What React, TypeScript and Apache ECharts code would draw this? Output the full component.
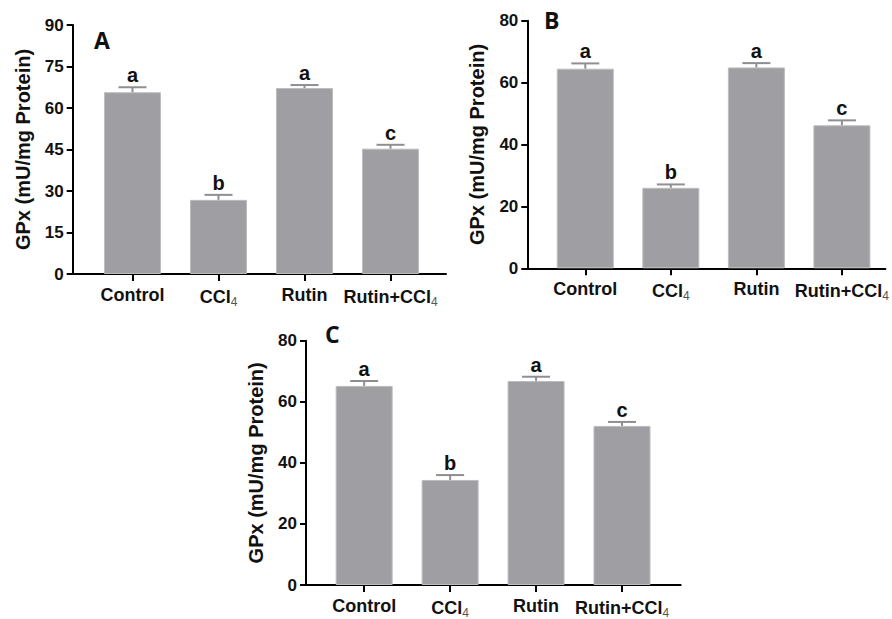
import React, { useEffect, useRef } from "react";
import * as echarts from "echarts";

const categories = ["Control", "CCl4", "Rutin", "Rutin+CCl4"];
const letters = ["a", "b", "a", "c"];

const gpxA = [65.7, 26.8, 67.2, 45.3];
const semA = [1.8, 1.8, 1.1, 1.4];

const gpxB = [64.5, 26.0, 64.9, 46.2];
const semB = [1.7, 1.1, 1.4, 1.6];

const gpxC = [65.2, 34.4, 66.8, 52.1];
const semC = [1.6, 1.6, 1.4, 1.3];

const yTitle = "GPx (mU/mg Protein)";
const panelNames = ["A", "B", "C"];

const AXIS_FONT = '"Liberation Sans", Arial, sans-serif';
const TEXT = "#111";
const BAR = "#9f9ea3";
const BAR_EDGE = "#bcbcbf";
const ERR = "#8f8f93";

function catLabel(v: number) {
  const name = categories[Math.round(v)] || "";
  if (name.endsWith("CCl4")) {
    return name.slice(0, -1) + "{sub|4}";
  }
  return name;
}

export default function App() {
  const ref = useRef<HTMLDivElement | null>(null);

  useEffect(() => {
    if (!ref.current) return;
    const chart = echarts.init(ref.current, undefined, { renderer: "svg" });

    const panels = [
      { vals: gpxA, sems: semA, grid: { left: 72.7, top: 25, width: 373.3, height: 249 }, xmin: -0.695, xmax: 3.645, ymax: 90, step: 15 },
      { vals: gpxB, sems: semB, grid: { left: 527.3, top: 20.7, width: 360.7, height: 247.6 }, xmin: -0.678, xmax: 3.508, ymax: 80, step: 20 },
      { vals: gpxC, sems: semC, grid: { left: 306, top: 340.7, width: 374.7, height: 248.6 }, xmin: -0.677, xmax: 3.683, ymax: 80, step: 20 },
    ];

    const grids: any[] = [];
    const xAxes: any[] = [];
    const yAxes: any[] = [];
    const series: any[] = [];

    panels.forEach((p, i) => {
      grids.push({ ...p.grid, containLabel: false });
      xAxes.push({
        type: "value",
        gridIndex: i,
        min: p.xmin,
        max: p.xmax,
        splitLine: { show: false },
        axisLine: { show: true, onZero: false, lineStyle: { color: "#000", width: 2 } },
        axisTick: { show: true, customValues: [0, 1, 2, 3], length: 7, lineStyle: { color: "#000", width: 2 } },
        axisLabel: {
          customValues: [0, 1, 2, 3],
          formatter: (v: number) => catLabel(v),
          margin: 12,
          color: TEXT,
          fontFamily: AXIS_FONT,
          fontWeight: "bold",
          fontSize: 18,
          rich: {
            sub: {
              fontFamily: AXIS_FONT,
              fontSize: 12,
              color: "#555",
              fontWeight: "normal",
              padding: [10, 0, 0, 0],
            },
          },
        },
      });
      yAxes.push({
        type: "value",
        gridIndex: i,
        min: 0,
        max: p.ymax,
        interval: p.step,
        splitLine: { show: false },
        axisLine: { show: true, onZero: false, lineStyle: { color: "#000", width: 2 } },
        axisTick: { show: true, length: 6, lineStyle: { color: "#000", width: 2 } },
        axisLabel: {
          margin: 9,
          color: TEXT,
          fontFamily: AXIS_FONT,
          fontWeight: "bold",
          fontSize: 17,
        },
        name: yTitle,
        nameLocation: "middle",
        nameRotate: 90,
        nameGap: 40,
        nameTextStyle: {
          color: TEXT,
          fontFamily: AXIS_FONT,
          fontWeight: "bold",
          fontSize: 20,
        },
      });
      series.push({
        type: "bar",
        xAxisIndex: i,
        yAxisIndex: i,
        barWidth: 57,
        data: p.vals.map((v, k) => [k, v]),
        itemStyle: { color: BAR, borderColor: BAR_EDGE, borderWidth: 1 },
        silent: true,
      });
      series.push({
        type: "custom",
        xAxisIndex: i,
        yAxisIndex: i,
        z: 5,
        data: p.vals.map((v, k) => [k, v, p.sems[k]]),
        renderItem: (params: any, api: any) => {
          const x = api.value(0);
          const y = api.value(1);
          const e = api.value(2);
          const top = api.coord([x, y + e]);
          const base = api.coord([x, y]);
          const half = 14;
          return {
            type: "group",
            children: [
              { type: "line", shape: { x1: top[0], y1: top[1], x2: top[0], y2: base[1] }, style: { stroke: ERR, lineWidth: 2 } },
              { type: "line", shape: { x1: top[0] - half, y1: top[1], x2: top[0] + half, y2: top[1] }, style: { stroke: ERR, lineWidth: 2 } },
              {
                type: "text",
                x: top[0],
                y: top[1] - 2,
                style: {
                  text: letters[params.dataIndex],
                  align: "center",
                  verticalAlign: "bottom",
                  fontFamily: AXIS_FONT,
                  fontWeight: "bold",
                  fontSize: 20,
                  fill: TEXT,
                },
              },
            ],
          };
        },
      });
    });

    const letterPos = [
      { x: 94, y: 28 },
      { x: 544, y: 8 },
      { x: 325, y: 322 },
    ];

    chart.setOption({
      animation: false,
      backgroundColor: "#fff",
      grid: grids,
      xAxis: xAxes,
      yAxis: yAxes,
      series,
      graphic: panelNames.map((n, i) => ({
        type: "text",
        x: letterPos[i].x,
        y: letterPos[i].y,
        style: {
          text: n,
          fontFamily: '"Open Sans", sans-serif',
          fontWeight: "bold",
          fontSize: 23,
          fill: TEXT,
        },
      })),
    });

    return () => chart.dispose();
  }, []);

  return (
    <div
      ref={ref}
      style={{ position: "fixed", left: 0, top: 0, width: 892, height: 619, background: "#fff" }}
    />
  );
}
